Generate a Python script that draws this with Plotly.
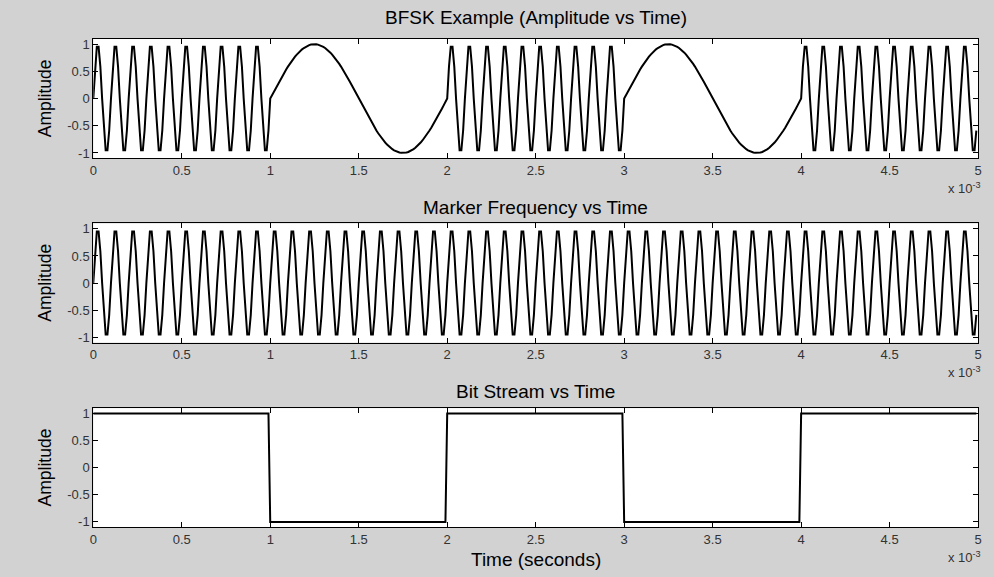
import numpy as np
import plotly.graph_objects as go

# Signal parameters
bits = [1, 0, 1, 0, 1]          # transmitted bit stream
bit_period = 1e-3               # seconds per bit
mark_freq = 10e3                # Hz, used for a "1"
space_freq = 1e3                # Hz, used for a "0"
sample_rate = 100e3             # samples per second

x_tick_vals = [0, 0.5e-3, 1e-3, 1.5e-3, 2e-3, 2.5e-3, 3e-3, 3.5e-3, 4e-3, 4.5e-3, 5e-3]
x_tick_text = ["0", "0.5", "1", "1.5", "2", "2.5", "3", "3.5", "4", "4.5", "5"]
y_tick_vals = [-1, -0.5, 0, 0.5, 1]
y_tick_text = ["-1", "-0.5", "0", "0.5", "1"]

titles = ["BFSK Example (Amplitude vs Time)", "Marker Frequency vs Time", "Bit Stream vs Time"]

# Build the sampled waveforms bit by bit
samples_per_bit = int(round(bit_period * sample_rate))
t_parts, fsk_parts, level_parts = [], [], []
for k, b in enumerate(bits):
    t_k = k * bit_period + np.arange(samples_per_bit) / sample_rate
    f_k = mark_freq if b == 1 else space_freq
    t_parts.append(t_k)
    fsk_parts.append(np.sin(2 * np.pi * f_k * t_k))
    level_parts.append(np.full(samples_per_bit, 2 * b - 1.0))
t = np.concatenate(t_parts)
fsk = np.concatenate(fsk_parts)
marker = np.sin(2 * np.pi * mark_freq * t)
levels = np.concatenate(level_parts)

W, H = 994, 577
bg = "#d2d2d2"
FONT = "Liberation Sans, Arial"

def px_x(p):
    return p / W

def px_y(p):
    return 1 - p / H

x_dom = [px_x(90), px_x(982)]
# (top, bottom) pixel edges of each axes box and the title centre line
boxes = [(37, 157.5), (223, 343), (409, 529)]
title_y = [16, 207, 392]

fig = go.Figure()
series = [fsk, marker, levels]
for i, (y, (top, bot)) in enumerate(zip(series, boxes)):
    idx = "" if i == 0 else str(i + 1)
    fig.add_trace(go.Scatter(
        x=t, y=y, mode="lines",
        line=dict(color="black", width=2),
        xaxis="x" + idx, yaxis="y" + idx, showlegend=False,
        hoverinfo="skip",
    ))
    axis_common = dict(
        showline=True, linecolor="black", linewidth=1, mirror="ticks",
        ticks="inside", ticklen=5, tickcolor="black", tickwidth=1,
        showgrid=False, zeroline=False,
        tickfont=dict(family=FONT, size=13, color="#333333"),
    )
    fig.update_layout(**{
        "xaxis" + idx: dict(
            domain=x_dom, range=[0, 5e-3], anchor="y" + idx,
            tickvals=x_tick_vals, ticktext=x_tick_text, **axis_common,
        ),
        "yaxis" + idx: dict(
            domain=[px_y(bot), px_y(top)], range=[-1.1, 1.1], anchor="x" + idx,
            tickvals=y_tick_vals, ticktext=y_tick_text, **axis_common,
        ),
    })
    # subplot title
    fig.add_annotation(
        x=0.5 * (x_dom[0] + x_dom[1]), y=px_y(title_y[i]), xref="paper", yref="paper",
        text=titles[i], showarrow=False, xanchor="center", yanchor="middle",
        font=dict(family=FONT, size=19, color="black"),
    )
    # y-axis label
    fig.add_annotation(
        x=px_x(41), y=px_y(0.5 * (top + bot)), xref="paper", yref="paper",
        text="Amplitude", showarrow=False, textangle=-90,
        xanchor="center", yanchor="middle",
        font=dict(family=FONT, size=17.5, color="black"),
    )
    # axis exponent, below the last tick label
    fig.add_annotation(
        x=px_x(987), y=px_y(bot + 20), xref="paper", yref="paper",
        text="x 10<sup>-3</sup>", showarrow=False, xanchor="right", yanchor="top",
        font=dict(family=FONT, size=13, color="#333333"),
    )

fig.add_annotation(
    x=0.5 * (x_dom[0] + x_dom[1]), y=px_y(561), xref="paper", yref="paper",
    text="Time (seconds)", showarrow=False, xanchor="center", yanchor="middle",
    font=dict(family=FONT, size=19, color="black"),
)

fig.update_layout(
    width=W, height=H,
    margin=dict(l=0, r=0, t=0, b=0),
    paper_bgcolor=bg, plot_bgcolor="white",
    showlegend=False,
)

fig.write_html("out.html")
